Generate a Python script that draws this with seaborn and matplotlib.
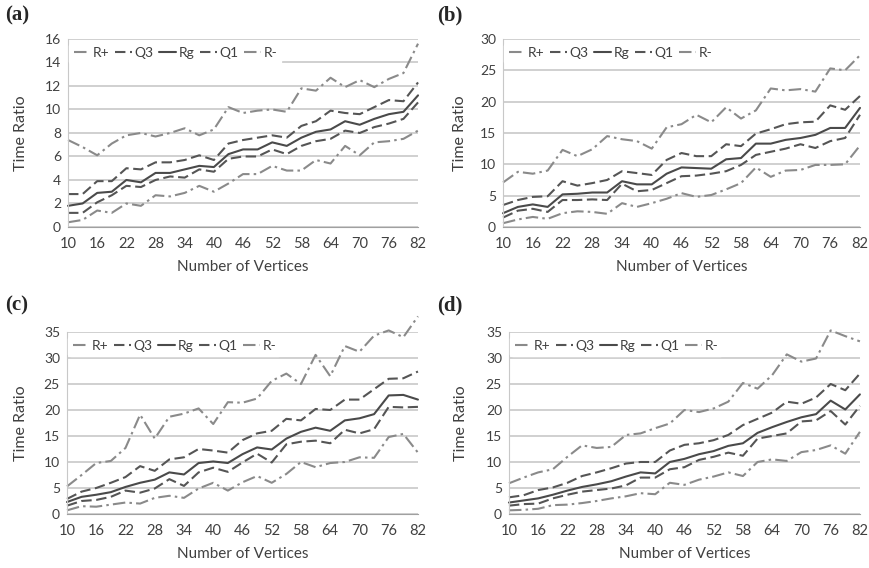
import pandas as pd
import matplotlib
matplotlib.use('Agg')
import matplotlib.pyplot as plt
import seaborn as sns

# x categories (number of vertices)
vertices = list(range(10, 83, 3))
series_names = ['R+', 'Q3', 'Rg', 'Q1', 'R-']

# panel (a)
a_rplus = [7.4, 6.8, 6.1, 7.1, 7.8, 8.0, 7.7, 8.0, 8.4, 7.8, 8.3, 10.2, 9.7, 9.9, 10.0, 9.8, 11.8, 11.6, 12.7, 11.9, 12.5, 11.9, 12.6, 13.1, 15.6]
a_q3 = [2.8, 2.8, 3.9, 3.9, 5.0, 4.9, 5.5, 5.5, 5.7, 6.1, 5.7, 7.1, 7.4, 7.6, 7.8, 7.6, 8.6, 9.0, 9.9, 9.7, 9.6, 10.2, 10.8, 10.7, 12.3]
a_rg = [1.8, 2.0, 2.9, 3.0, 4.0, 3.8, 4.6, 4.6, 4.9, 5.2, 5.1, 6.2, 6.6, 6.6, 7.2, 6.9, 7.6, 8.1, 8.3, 9.0, 8.7, 9.2, 9.6, 9.8, 11.2]
a_q1 = [1.2, 1.2, 2.1, 2.7, 3.5, 3.4, 4.0, 4.3, 4.2, 4.9, 4.7, 5.8, 6.0, 6.0, 6.6, 6.2, 6.9, 7.3, 7.5, 8.2, 8.0, 8.5, 8.8, 9.2, 10.6]
a_rminus = [0.4, 0.6, 1.4, 1.2, 2.0, 1.8, 2.7, 2.6, 2.9, 3.5, 3.0, 3.7, 4.5, 4.5, 5.2, 4.8, 4.8, 5.7, 5.4, 6.9, 6.1, 7.2, 7.3, 7.5, 8.2]

# panel (b)
b_rplus = [7.1, 8.8, 8.5, 9.0, 12.3, 11.3, 12.4, 14.5, 14.0, 13.7, 12.5, 15.9, 16.4, 17.9, 16.7, 19.1, 17.3, 18.6, 22.1, 21.8, 22.0, 21.6, 25.3, 25.0, 27.4]
b_q3 = [3.5, 4.3, 4.8, 4.9, 7.3, 6.6, 7.0, 7.5, 8.9, 8.6, 8.3, 10.7, 11.8, 11.3, 11.3, 13.2, 12.9, 14.9, 15.6, 16.4, 16.7, 16.8, 19.4, 18.7, 20.9]
b_rg = [2.2, 3.2, 3.6, 3.2, 5.2, 5.3, 5.5, 5.5, 7.3, 6.8, 6.8, 8.5, 9.5, 9.4, 9.3, 10.8, 11.0, 13.3, 13.3, 13.9, 14.2, 14.7, 15.8, 15.8, 19.0]
b_q1 = [1.5, 2.6, 2.9, 2.4, 4.3, 4.3, 4.4, 4.3, 6.9, 5.7, 5.9, 7.0, 8.1, 8.2, 8.5, 8.9, 9.9, 11.5, 12.0, 12.5, 13.2, 12.6, 13.7, 14.2, 17.9]
b_rminus = [0.6, 1.2, 1.6, 1.3, 2.2, 2.5, 2.4, 2.1, 3.8, 3.2, 3.8, 4.5, 5.4, 4.8, 5.1, 6.0, 7.0, 9.5, 8.0, 9.0, 9.1, 9.9, 9.9, 10.0, 13.0]

# panel (c)
c_rplus = [5.3, 7.5, 9.8, 10.2, 12.7, 19.1, 14.5, 18.7, 19.3, 20.3, 17.3, 21.5, 21.4, 22.2, 25.6, 27.0, 25.0, 30.6, 26.5, 32.3, 31.2, 34.3, 35.3, 34.0, 38.0]
c_q3 = [2.9, 4.3, 5.0, 6.0, 7.1, 9.2, 8.3, 10.5, 10.9, 12.5, 12.2, 11.8, 14.2, 15.5, 16.0, 18.3, 18.0, 20.2, 20.0, 22.0, 22.0, 24.0, 26.0, 26.1, 27.4]
c_rg = [2.3, 3.3, 3.7, 4.2, 5.2, 6.0, 6.6, 8.0, 7.6, 9.8, 10.1, 9.8, 11.5, 12.8, 12.4, 14.5, 15.8, 16.6, 16.0, 18.0, 18.4, 19.2, 22.8, 22.9, 22.0]
c_q1 = [1.6, 2.5, 2.7, 3.3, 4.5, 4.1, 4.9, 6.7, 5.4, 8.0, 8.9, 8.1, 9.9, 11.6, 9.9, 13.4, 13.9, 14.1, 13.6, 16.2, 15.5, 16.3, 20.6, 20.5, 20.6]
c_rminus = [0.7, 1.5, 1.4, 1.8, 2.2, 2.0, 3.1, 3.5, 3.1, 4.9, 6.0, 4.5, 6.1, 7.3, 6.0, 7.7, 10.0, 9.0, 9.8, 10.0, 10.9, 10.8, 14.8, 15.4, 11.8]

# panel (d)
d_rplus = [5.9, 7.0, 8.0, 8.6, 11.0, 13.2, 12.7, 12.9, 15.2, 15.5, 16.5, 17.4, 20.0, 19.6, 20.3, 21.6, 25.2, 24.1, 26.7, 30.7, 29.3, 29.9, 35.3, 34.2, 33.2]
d_q3 = [3.2, 3.6, 4.6, 5.1, 6.0, 7.3, 8.0, 8.8, 9.7, 10.0, 10.0, 12.2, 13.3, 13.6, 14.2, 15.2, 17.1, 18.3, 19.5, 21.6, 21.2, 22.4, 25.0, 23.8, 27.0]
d_rg = [2.2, 2.6, 3.0, 3.7, 4.5, 5.2, 5.7, 6.3, 7.2, 8.0, 7.8, 10.0, 10.6, 11.5, 12.1, 13.1, 13.6, 15.6, 16.7, 17.7, 18.6, 19.2, 21.8, 20.1, 23.0]
d_q1 = [1.6, 1.9, 2.0, 3.0, 3.7, 4.3, 4.6, 4.9, 5.5, 7.0, 7.0, 8.6, 9.0, 10.4, 11.0, 11.8, 11.2, 14.5, 15.0, 15.5, 17.8, 18.0, 19.8, 17.2, 20.8]
d_rminus = [0.7, 0.8, 1.0, 1.7, 1.8, 2.1, 2.5, 3.0, 3.4, 4.0, 3.8, 6.0, 5.6, 6.6, 7.2, 8.0, 7.3, 10.0, 10.5, 10.2, 11.9, 12.3, 13.2, 11.6, 15.8]

sns.set_style('white')
plt.rcParams['font.family'] = ['Lato', 'DejaVu Sans']

palette = {'R+': '#8a8a8a', 'Q3': '#555555', 'Rg': '#4a4a4a', 'Q1': '#555555', 'R-': '#8a8a8a'}
dashes = {'R+': (6, 2, 1.2, 2), 'Q3': (5, 2.2), 'Rg': '', 'Q1': (5, 2.2), 'R-': (6, 2, 1.2, 2)}
text_color = '#404040'


def make_long(cols):
    frames = []
    for name, vals in zip(series_names, cols):
        frames.append(pd.DataFrame({'Vertices': vertices, 'Time Ratio': vals, 'series': name}))
    return pd.concat(frames, ignore_index=True)


def draw_panel(ax, cols, ymax, ystep, ylab_x):
    df = make_long(cols)
    sns.lineplot(data=df, x='Vertices', y='Time Ratio', hue='series', style='series',
                 palette=palette, dashes=dashes, linewidth=1.5, ax=ax)
    for ln in ax.lines:
        ln.set_clip_on(False)
    ax.set_xlim(10, 82)
    ax.set_ylim(0, ymax)
    ax.set_xticks(vertices)
    ax.set_xticklabels([str(v) if i % 2 == 0 else '' for i, v in enumerate(vertices)])
    ax.set_yticks(list(range(0, ymax + 1, ystep)))
    ax.yaxis.grid(True, color='#c8c8c8', linewidth=1.2)
    ax.set_axisbelow(True)
    for side in ['top', 'right']:
        ax.spines[side].set_visible(False)
    ax.spines['left'].set_color('#c8c8c8')
    ax.spines['bottom'].set_color('#a0a0a0')
    ax.tick_params(axis='x', direction='out', length=4, color='#a0a0a0', width=1,
                   labelsize=10.5, labelcolor=text_color, pad=3)
    ax.tick_params(axis='y', length=0, labelsize=10, labelcolor=text_color, pad=5)
    ax.set_xlabel('Number of Vertices', fontsize=11, color=text_color, labelpad=7)
    ax.set_ylabel('Time Ratio', fontsize=11.5, color=text_color)
    ax.yaxis.set_label_coords(ylab_x, 0.5)
    leg = ax.legend(loc='upper left', bbox_to_anchor=(0.0, 0.985), ncol=5, frameon=True,
                    fontsize=10, handlelength=1.2, handletextpad=0.2, columnspacing=0.4,
                    borderaxespad=0.1, borderpad=0.3, labelcolor=text_color)
    leg.get_frame().set_facecolor('white')
    leg.get_frame().set_edgecolor('white')
    leg.get_frame().set_alpha(1)


fig = plt.figure(figsize=(8.7, 5.68), dpi=100)
ax_a = fig.add_axes([0.0782, 0.6004, 0.4023, 0.331])
ax_b = fig.add_axes([0.5782, 0.6004, 0.4103, 0.331])
ax_c = fig.add_axes([0.0770, 0.0951, 0.4034, 0.3204])
ax_d = fig.add_axes([0.5850, 0.0951, 0.4034, 0.3204])

draw_panel(ax_a, [a_rplus, a_q3, a_rg, a_q1, a_rminus], 16, 2, -0.114)
draw_panel(ax_b, [b_rplus, b_q3, b_rg, b_q1, b_rminus], 30, 5, -0.10)
draw_panel(ax_c, [c_rplus, c_q3, c_rg, c_q1, c_rminus], 35, 5, -0.111)
draw_panel(ax_d, [d_rplus, d_q3, d_rg, d_q1, d_rminus], 35, 5, -0.117)

for x, y, lab in [(0.006, 0.972, '(a)'), (0.502, 0.972, '(b)'), (0.006, 0.462, '(c)'), (0.502, 0.462, '(d)')]:
    fig.text(x, y, lab, fontsize=15, fontweight='bold', family='Liberation Serif', va='center', ha='left')

fig.savefig('out.png', dpi=100)
